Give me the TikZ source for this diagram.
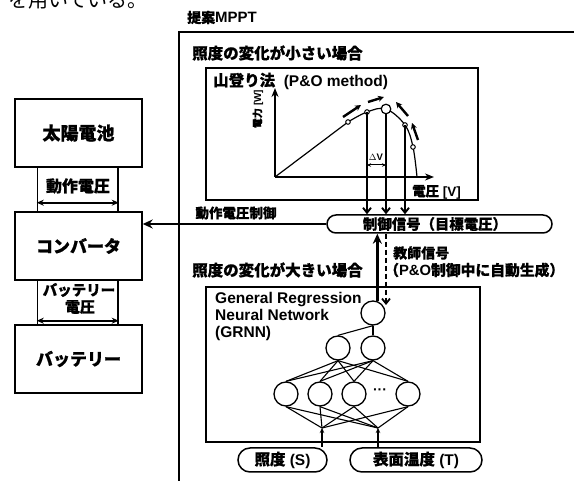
\documentclass[tikz,border=0pt]{standalone}
\usepackage{fontspec}
\setmainfont{Liberation Sans}
\newfontfamily\jp{Noto Sans CJK JP}[BoldFeatures={FakeBold=0.6}]
\usetikzlibrary{arrows.meta,calc}
\begin{document}
\begin{tikzpicture}[x=1pt,y=-1pt,
  every node/.style={inner sep=0pt},
  jt/.style={font={\jp\bfseries\fontsize{#1}{#1}\selectfont}},
  lt/.style={font={\bfseries\fontsize{#1}{#1}\selectfont}},
  box/.style={draw, line width=1.4pt},
  pill/.style={draw, line width=1.5pt, rounded corners=#1},
  neuron/.style={draw, circle, line width=1.3pt, minimum size=24pt},
  net/.style={line width=1.1pt},
  bigar/.style={line width=2.4pt, -{Stealth[length=10pt,width=9pt]}},
  vdown/.style={line width=1.9pt, -{Straight Barb[length=5pt,width=8pt]}},
  dbl/.style={line width=2pt, {Stealth[length=7pt,width=6pt]}-{Stealth[length=7pt,width=6pt]}},
  axisar/.style={line width=2.2pt, -{Stealth[length=9pt,width=7pt]}},
  climb/.style={line width=2.4pt, -{Stealth[length=6pt,width=6pt]}},
  smallar/.style={line width=1.4pt, -{Stealth[length=5pt,width=4.5pt]}},
  dashar/.style={line width=1.8pt, dash pattern=on 5pt off 3pt, -{Straight Barb[length=5pt,width=8pt]}}
]
\useasboundingbox (0,0) rectangle (574,481);

% page fragment at the top
\begin{scope}
\clip (0,0) rectangle (574,481);
\node[font={\jp\fontsize{20}{20}\selectfont}, anchor=base west] (frag) at (8,8) {を用いている。};
\end{scope}

% ---------- left column ----------
\node[box, minimum width=127pt, minimum height=68pt, jt=18] (solar) at (78.5,133) {太陽電池};
\node[box, minimum width=80.5pt, minimum height=45pt] (v1) at (77.75,189.5) {};
\node[box, minimum width=127pt, minimum height=68pt, jt=17] (conv) at (78.5,246) {コンバータ};
\node[box, minimum width=80.5pt, minimum height=45pt] (v2) at (77.75,302.5) {};
\node[box, minimum width=127pt, minimum height=68pt, jt=17] (batt) at (78.5,359) {バッテリー};

\node[jt=16] (l1) at (78,186) {動作電圧};
\draw[dbl] ($(v1.south west)+(0,-10)$) -- ($(v1.south east)+(0,-10)$);
\node[jt=14.5] (l2a) at (79,290) {バッテリー};
\node[jt=15] (l2b) at (80,307) {電圧};
\draw[dbl] ($(v2.south west)+(0,-5)$) -- ($(v2.south east)+(0,-5)$);

% ---------- MPPT frame ----------
\node[lt=15, anchor=west] (mppt) at (187,17.5) {{\jp\fontsize{14}{14}\selectfont 提案}MPPT};
\draw[line width=1.4pt] (179,490) -- (179,32) -- (580,32);
\node[jt=15.5, anchor=west] (small) at (192,53) {照度の変化が小さい場合};

% P&O box
\node[box, minimum width=272pt, minimum height=132pt] (pobox) at (342,134) {};
\node[lt=15.5, anchor=west] (potitle) at (213,81) {{\jp 山登り法}\ \ (P\&O method)};

% axes
\coordinate (O) at (275,177);
\coordinate (ytop) at (275,88);
\coordinate (xend) at (434,177);
\draw[axisar] (O) -- (ytop);
\draw[axisar] (O) -- (xend);
\node[font={\jp\bfseries\fontsize{10}{10}\selectfont}, rotate=90] (ylab) at (258,109) {電力 {\rmfamily [W]}};
\node[lt=13.5, anchor=west] (xlab) at (412,192) {{\jp 電圧} [V]};

% P-V curve
\coordinate (A) at (348,122);
\coordinate (B) at (367,112);
\coordinate (P) at (386,109);
\coordinate (C) at (405,125);
\coordinate (D) at (413,147);
\coordinate (E) at (417,177);
\draw[line width=1.2pt] (O) -- (A);
\draw[line width=1.2pt] plot[smooth, tension=0.6] coordinates {(A) (B) (P) (C) (D) (E)};
\foreach \p in {A,B,C,D} \fill[white] (\p) circle (2.3pt);
\foreach \p in {A,B,C,D} \draw[line width=1pt] (\p) circle (2.3pt);

% climbing arrows
\draw[climb] (343,117) -- (361,105);
\draw[climb] (368,102) -- (384,97);
\draw[climb] (408,116) -- (396,102);
\draw[climb] (418,140) -- (412,123);

% control signal pill
\node[pill=9pt, minimum width=225pt, minimum height=18pt] (ctrl) at (439.5,224) {};
\node[jt=14.4] (ctrltxt) at (435,224) {制御信号（目標電圧）};

% vertical arrows
\draw[vdown] (B) -- (B |- ctrl.north);
\draw[vdown] (P) -- (P |- ctrl.north);
\draw[vdown] (C) -- (C |- ctrl.north);
\fill[white] (P) circle (4.8pt);
\draw[line width=1.2pt] (P) circle (4.8pt);

% delta V
\coordinate (dv1) at (367,165);
\coordinate (dv2) at (386,165);
\draw[line width=1pt, {Stealth[length=4pt,width=3.5pt]}-{Stealth[length=4pt,width=3.5pt]}] (dv1) -- (dv2);
\node[lt=9.5] (dvlab) at (376,157) {$\Delta$V};

% operating voltage control
\node[jt=13.5] (opctl) at (236,213) {動作電圧制御};
\draw[bigar] (ctrl.west) -- (ctrl.west -| conv.east);

% large-change section
\node[jt=15.5, anchor=west] (large) at (192,270) {照度の変化が大きい場合};
\node[jt=14, anchor=west] (teach1) at (393,253) {教師信号};
\node[lt=14.8, anchor=west] (teach2) at (384,270) {{\jp （}P\&O{\jp 制御中に自動生成）}};

% GRNN box
\node[box, minimum width=274pt, minimum height=155pt] (grnn) at (343,364.5) {};
\node[anchor=north west, align=left, font={\bfseries\fontsize{15.5}{17}\selectfont}] (grnntxt) at (215,292) {General Regression\\Neural Network\\(GRNN)};

% network
\node[neuron] (o1) at (373,313) {};
\node[neuron] (h1) at (338,348) {};
\node[neuron] (h2) at (373,348) {};
\node[neuron] (na) at (286,394) {};
\node[neuron] (nb) at (320,394) {};
\node[neuron] (nc) at (354,394) {};
\node[neuron] (nd) at (408,394) {};
\node[lt=14] (dots) at (380,392) {···};
\draw[net] (o1.south) -- (h1.north);
\draw[net] (o1.south) -- (h2.north);
\foreach \h in {h1,h2} \foreach \n in {na,nb,nc,nd} \draw[net] (\h.south) -- (\n.north);
\coordinate (i1) at (322,428);
\coordinate (i2) at (378,428);
\foreach \n in {na,nb,nc,nd} {\draw[net] (\n.south) -- (i1); \draw[net] (\n.south) -- (i2);}

% up arrow and teaching-signal arrow
\draw[bigar] (o1.70) -- (o1.70 |- ctrl.south);
\coordinate (tdn) at (386,305);
\draw[dashar] (tdn |- ctrl.south) -- (tdn);

% inputs
\node[pill=12pt, minimum width=89pt, minimum height=24pt, lt=15.5] (inS) at (282.5,460) {{\jp 照度} (S)};
\node[pill=12pt, minimum width=132pt, minimum height=24pt, lt=15.5] (inT) at (416,460) {{\jp 表面温度} (T)};
\draw[smallar] (i1 |- inS.north) -- (i1);
\draw[smallar] (i2 |- inT.north) -- (i2);
\end{tikzpicture}
\end{document}
